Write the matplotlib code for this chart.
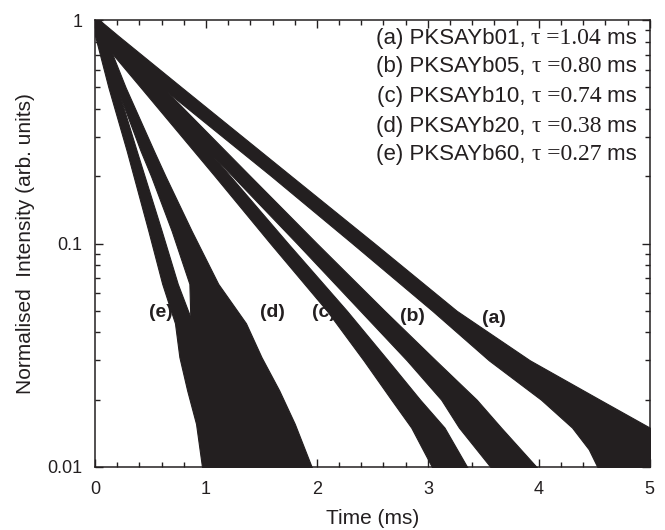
import matplotlib.pyplot as plt

# decay bands: at each intensity level, the earliest and
# latest time (ms) covered by the cloud of measured points
level_a = [1.0, 0.85, 0.5, 0.2, 0.1, 0.05, 0.03, 0.02, 0.015, 0.012, 0.0095]
early_a = [0.0, 0.03, 0.60, 1.59, 2.32, 3.04, 3.55, 4.02, 4.30, 4.45, 4.55]
late_a = [0.04, 0.21, 0.78, 1.77, 2.52, 3.26, 3.92, 4.55, 5.0, 5.1, 5.1]

level_b = [1.0, 0.85, 0.5, 0.2, 0.1, 0.05, 0.03, 0.02, 0.015, 0.0095]
early_b = [0.0, 0.02, 0.47, 1.24, 1.82, 2.39, 2.81, 3.12, 3.28, 3.60]
late_b = [0.04, 0.16, 0.61, 1.40, 2.00, 2.61, 3.07, 3.44, 3.66, 4.02]

level_c = [1.0, 0.85, 0.5, 0.2, 0.1, 0.05, 0.03, 0.02, 0.015, 0.0095]
early_c = [0.0, 0.02, 0.41, 1.08, 1.58, 2.09, 2.42, 2.67, 2.85, 3.06]
late_c = [0.04, 0.14, 0.53, 1.22, 1.74, 2.27, 2.64, 2.93, 3.15, 3.38]

level_d = [1.0, 0.85, 0.5, 0.26, 0.2, 0.114, 0.066, 0.044, 0.031, 0.022, 0.0156, 0.0095]
early_d = [0.0, 0.03, 0.195, 0.41, 0.505, 0.69, 0.85, 0.86, 0.93, 1.00, 1.08, 1.18]
late_d = [0.03, 0.09, 0.275, 0.53, 0.635, 0.87, 1.11, 1.36, 1.50, 1.66, 1.80, 1.97]

level_e = [1.0, 0.85, 0.5, 0.26, 0.114, 0.066, 0.044, 0.031, 0.022, 0.0156, 0.0095]
early_e = [0.0, 0.0, 0.12, 0.285, 0.48, 0.605, 0.72, 0.76, 0.83, 0.91, 0.97]
late_e = [0.02, 0.06, 0.20, 0.375, 0.60, 0.745, 0.88, 1.00, 1.12, 1.23, 1.35]

curve_tags = ["(a)", "(b)", "(c)", "(d)", "(e)"]
tag_time = [3.60, 2.86, 2.06, 1.60, 0.59]
tag_level = [0.046, 0.047, 0.049, 0.049, 0.049]

samples = ["PKSAYb01", "PKSAYb05", "PKSAYb10", "PKSAYb20", "PKSAYb60"]
taus = ["1.04", "0.80", "0.74", "0.38", "0.27"]

ink = '#231f20'
sans = 'Liberation Sans'
serif = 'Liberation Serif'

fig = plt.figure(figsize=(6.65, 5.30), dpi=100)
ax = fig.add_axes([0.143, 0.119, 0.834, 0.843])

bands = [(level_a, early_a, late_a), (level_b, early_b, late_b),
         (level_c, early_c, late_c), (level_d, early_d, late_d),
         (level_e, early_e, late_e)]
for lev, t0, t1 in bands:
    ax.fill_betweenx(lev, t0, t1, color=ink, lw=0.8)

for tag, t, v in zip(curve_tags, tag_time, tag_level):
    ax.text(t, v, tag, ha='center', va='center', fontsize=14,
            fontweight='bold', family=sans, color=ink, zorder=0)

ax.set_yscale('log')
ax.set_xlim(0, 5)
ax.set_ylim(0.01, 1)
ax.set_xticks([0, 1, 2, 3, 4, 5])
ax.set_xticks([i * 0.2 for i in range(26)], minor=True)
ax.set_yticks([0.01, 0.1, 1])
ax.set_yticklabels(['0.01', '0.1', '1'])
ax.tick_params(which='both', direction='in', top=True, right=True,
               colors=ink, labelsize=13, width=1)
ax.tick_params(which='major', length=6)
ax.tick_params(axis='x', which='major', pad=10)
ax.tick_params(axis='y', which='major', pad=9)
ax.tick_params(which='minor', length=3.5)
for lab in ax.get_xticklabels() + ax.get_yticklabels():
    lab.set_family(sans)
for s in ax.spines.values():
    s.set_linewidth(1.1)
    s.set_color(ink)

ax.set_xlabel('Time (ms)', fontsize=15, family=sans, color=ink, labelpad=8)
ax.set_ylabel('Normalised  Intensity (arb. units)', fontsize=15, family=sans,
              color=ink, labelpad=9)

# legend lines: sans text with the tau value in serif, right aligned
row_y = [0.946, 0.883, 0.816, 0.749, 0.687]
for tag, name, tau, y in zip(curve_tags, samples, taus, row_y):
    t3 = ax.text(0.977, y, ' ms', transform=ax.transAxes, ha='right',
                 va='baseline', fontsize=16, family=sans, color=ink)
    t2 = ax.annotate('\u03c4 =' + tau, xy=(0, 0), xycoords=t3, ha='right',
                     va='bottom', fontsize=17, family=serif, color=ink)
    ax.annotate(tag + ' ' + name + ', ', xy=(0, 0), xycoords=t2, ha='right',
                va='bottom', fontsize=16, family=sans, color=ink)

fig.savefig('out.png', dpi=100)
